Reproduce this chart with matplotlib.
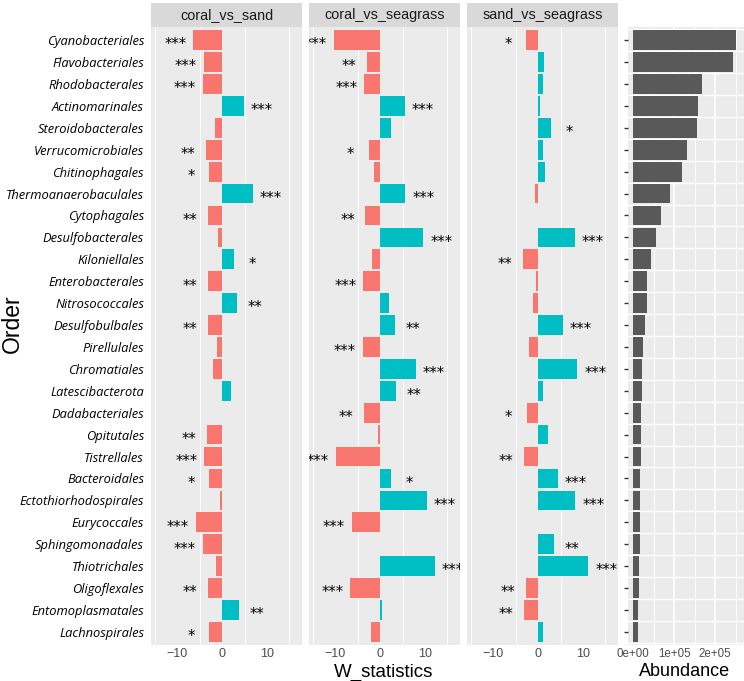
import numpy as np
import matplotlib
matplotlib.use("Agg")
import matplotlib.pyplot as plt

plt.rcParams["font.family"] = ["Liberation Sans", "DejaVu Sans"]

# --- data ---
orders = ["Cyanobacteriales", "Flavobacteriales", "Rhodobacterales", "Actinomarinales",
          "Steroidobacterales", "Verrucomicrobiales", "Chitinophagales", "Thermoanaerobaculales",
          "Cytophagales", "Desulfobacterales", "Kiloniellales", "Enterobacterales",
          "Nitrosococcales", "Desulfobulbales", "Pirellulales", "Chromatiales",
          "Latescibacterota", "Dadabacteriales", "Opitutales", "Tistrellales",
          "Bacteroidales", "Ectothiorhodospirales", "Eurycoccales", "Sphingomonadales",
          "Thiotrichales", "Oligoflexales", "Entomoplasmatales", "Lachnospirales"]

comparisons = ["coral_vs_sand", "coral_vs_seagrass", "sand_vs_seagrass"]

w_coral_sand = [-6.5, -4.1, -4.4, 4.9, -1.6, -3.7, -2.9, 6.9, -3.2, -0.9, 2.7, -3.2, 3.3, -3.1,
                -1.2, -2.0, 2.0, -0.1, -3.5, -4.0, -2.9, -0.4, -5.9, -4.4, -1.3, -3.1, 3.7, -2.9]
sig_coral_sand = ["***", "***", "***", "***", "", "**", "*", "***", "**", "", "*", "**", "**", "**",
                  "", "", "", "", "**", "***", "*", "", "***", "***", "", "**", "**", "*"]

w_coral_seagrass = [-10.4, -2.9, -3.6, 5.5, 2.4, -2.6, -1.3, 5.6, -3.3, 9.6, -1.9, -3.8, 2.0, 3.3,
                    -3.9, 8.0, 3.6, -3.6, -0.6, -9.9, 2.4, 10.4, -6.3, -0.1, 12.2, -6.7, 0.4, -2.0]
sig_coral_seagrass = ["***", "**", "***", "***", "", "*", "", "***", "**", "***", "", "***", "", "**",
                      "***", "***", "**", "**", "", "***", "*", "***", "***", "", "***", "***", "", ""]

w_sand_seagrass = [-2.7, 1.2, 1.1, 0.45, 2.9, 1.1, 1.4, -0.8, 0.0, 8.1, -3.5, -0.5, -1.1, 5.5,
                   -2.1, 8.7, 1.1, -2.6, 2.2, -3.1, 4.4, 8.3, -0.15, 3.6, 11.2, -2.8, -3.2, 1.0]
sig_sand_seagrass = ["*", "", "", "", "*", "", "", "", "", "***", "**", "", "", "***",
                     "", "***", "", "*", "", "**", "***", "***", "", "**", "***", "**", "**", ""]

abundance = [252000, 244000, 168000, 159000, 157000, 131000, 119000, 91000, 69000, 56000,
             45000, 34000, 33000, 30000, 24400, 21100, 21100, 20300, 20300, 19500, 17900,
             17900, 16300, 16300, 15400, 14600, 13000, 12200]

w_values = [w_coral_sand, w_coral_seagrass, w_sand_seagrass]
w_sigs = [sig_coral_sand, sig_coral_seagrass, sig_sand_seagrass]

# --- figure layout (pixels) ---
W, H = 744, 681
RED, TEAL = "#F8766D", "#00BFC4"
BG, STRIP = "#EBEBEB", "#D9D9D9"

def px_rect(x0, y0, x1, y1):
    return [x0 / W, 1 - y1 / H, (x1 - x0) / W, (y1 - y0) / H]

fig = plt.figure(figsize=(W / 100, H / 100), dpi=100)

y = np.arange(len(orders))
panel_x = [(151, 302), (309, 460), (467, 618)]
TOP, BOTTOM = 27, 645

for k, (x0, x1) in enumerate(panel_x):
    ax = fig.add_axes(px_rect(x0, TOP, x1, BOTTOM))
    ax.set_facecolor(BG)
    vals = np.array(w_values[k])
    colors = [TEAL if v > 0 else RED for v in vals]
    ax.barh(y, vals, height=0.9, color=colors, zorder=2)
    for v in [-15, -5, 5, 15]:
        ax.axvline(v, color="white", lw=0.6, zorder=1)
    for yi, v, s in zip(y, vals, w_sigs[k]):
        if s:
            xt = v + 4.0 if v > 0 else v - 4.0
            ax.text(xt, yi + 0.22, s, ha="center", va="center", fontsize=10.5,
                    color="black", zorder=3, clip_on=True, family="DejaVu Sans")
    ax.set_xlim(-15.9, 17.8)
    ax.set_ylim(len(orders) - 0.4, -0.6)
    ax.set_xticks([-10, 0, 10])
    ax.set_xticklabels(["\u221210", "0", "10"])
    ax.tick_params(axis="x", length=0, pad=2, labelsize=9, labelcolor="#4D4D4D")
    for sp in ax.spines.values():
        sp.set_visible(False)
    if k == 0:
        ax.set_yticks(y)
        ax.set_yticklabels(orders, fontstyle="italic", fontsize=9.3, family="Open Sans")
        ax.tick_params(axis="y", length=0, pad=5, labelcolor="black")
    else:
        ax.set_yticks([])

    # facet strip
    sax = fig.add_axes(px_rect(x0, 3, x1, 26.5))
    sax.set_facecolor(STRIP)
    sax.set_xticks([]); sax.set_yticks([])
    for sp in sax.spines.values():
        sp.set_visible(False)
    sax.text(0.5, 0.47, comparisons[k], ha="center", va="center", fontsize=10.4,
             color="#1A1A1A", transform=sax.transAxes)

# abundance panel
ax_a = fig.add_axes(px_rect(628, TOP, 744, BOTTOM))
ax_a.set_facecolor(BG)
ax_a.barh(y, abundance, height=0.9, color="#595959", zorder=2)
for v in [50000, 150000, 250000]:
    ax_a.axvline(v, color="white", lw=0.6, zorder=1)
for v in [100000, 200000]:
    ax_a.axvline(v, color="white", lw=1.1, zorder=1)
for yi in np.arange(-0.5, len(orders), 1.0):
    ax_a.axhline(yi, color="white", lw=1.0, zorder=1)
ax_a.set_xlim(-12200, 270700)
ax_a.set_ylim(len(orders) - 0.4, -0.6)
ax_a.set_xticks([0, 100000, 200000])
ax_a.set_xticklabels(["0e+00", "1e+05", "2e+05"])
ax_a.tick_params(axis="x", length=0, pad=2, labelsize=8.3, labelcolor="#4D4D4D")
ax_a.set_yticks(y)
ax_a.set_yticklabels([])
ax_a.tick_params(axis="y", length=3, width=1, color="#333333")
for sp in ax_a.spines.values():
    sp.set_visible(False)

# axis titles
fig.text(384 / W, 1 - 672 / H, "W_statistics", ha="center", va="center", fontsize=13.5)
fig.text(685 / W, 1 - 672 / H, "Abundance", ha="center", va="center", fontsize=13)
fig.text(12 / W, 1 - 324 / H, "Order", ha="center", va="center", rotation=90, fontsize=16.5)

fig.savefig("out.png", dpi=100, facecolor="white")
